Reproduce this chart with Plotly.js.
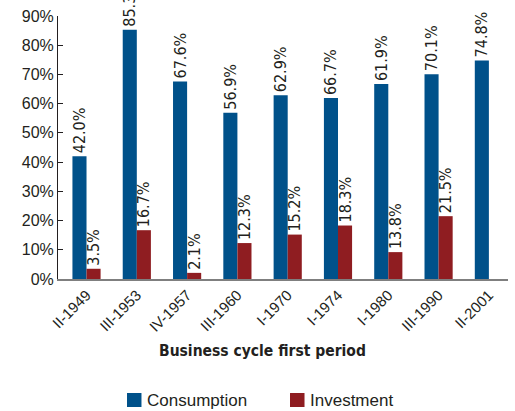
<!DOCTYPE html>
<html>
<head>
<meta charset="utf-8">
<script src="https://cdn.plot.ly/plotly-3.0.1.min.js"></script>
<style>html,body{margin:0;padding:0;background:#fff;}#chart{width:515px;height:411px;}</style>
</head>
<body>
<div id="chart"></div>
<script>
const categories = ["II-1949","III-1953","IV-1957","III-1960","I-1970","I-1974","I-1980","III-1990","II-2001"];
// bar heights as drawn in the picture
const consumption = [42.0, 85.3, 67.6, 56.9, 62.9, 61.9, 66.7, 70.1, 74.8];
const investment  = [3.5, 16.7, 2.1, 12.3, 15.2, 18.3, 9.2, 21.5, null];
// labels as printed in the picture
const consumptionLabels = ["42.0%","85.3","67.6%","56.9%","62.9%","66.7%","61.9%","70.1%","74.8%"];
const investmentLabels  = ["3.5%","16.7%","2.1%","12.3%","15.2%","18.3%","13.8%","21.5%",""];
const seriesNames = ["Consumption", "Investment"];
const seriesColors = ["#00518a", "#8f1d21"];
const yTickVals = [0,10,20,30,40,50,60,70,80,90];
const yTickText = ["0%","10%","20%","30%","40%","50%","60%","70%","80%","90%"];

const ink = "#231f20";
const narrow = "'Liberation Sans Narrow', 'Arial Narrow', 'DejaVu Sans Condensed', sans-serif";
const sans = "'Liberation Sans', Arial, sans-serif";

const labelFont = {family: narrow, size: 16, color: ink};

const traces = [
  {type: "bar", name: seriesNames[0], x: categories, y: consumption,
   text: consumptionLabels, textposition: "outside", textangle: -90,
   constraintext: "none", cliponaxis: false, textfont: labelFont,
   marker: {color: seriesColors[0]}, hoverinfo: "skip"},
  {type: "bar", name: seriesNames[1], x: categories, y: investment,
   text: investmentLabels, textposition: "outside", textangle: -90,
   constraintext: "none", cliponaxis: false, textfont: labelFont,
   marker: {color: seriesColors[1]}, hoverinfo: "skip"}
];

// legend drawn in the bottom margin (square + label per series)
const legendX = [0.1533, 0.5156];
const shapes = seriesColors.map((c, i) => ({
  type: "rect", xref: "paper", yref: "paper",
  x0: legendX[i], x1: legendX[i] + 0.0322, y0: -0.4867, y1: -0.4335,
  fillcolor: c, line: {width: 0}
}));
const legendAnn = seriesNames.map((n, i) => ({
  text: n, xref: "paper", yref: "paper",
  x: legendX[i] + 0.0400, y: -0.4601, xanchor: "left", yanchor: "middle",
  showarrow: false, font: {family: sans, size: 17, color: ink}
}));

const layout = {
  width: 515, height: 411,
  margin: {l: 58, r: 7, t: 16, b: 132},
  paper_bgcolor: "#fff", plot_bgcolor: "#fff",
  barmode: "group", bargap: 0.44, bargroupgap: 0,
  showlegend: false,
  font: {family: sans, color: ink},
  xaxis: {
    type: "category", range: [-0.567, 8.38],
    showline: true, linecolor: "#7f7f7f", linewidth: 1.5,
    showgrid: false, zeroline: false, ticks: "",
    tickangle: -45, tickfont: {family: sans, size: 15, color: ink}
  },
  yaxis: {
    range: [0, 90], tickvals: yTickVals, ticktext: yTickText,
    showline: true, linecolor: ink, linewidth: 1,
    ticks: "inside", ticklen: 5, tickcolor: ink,
    showgrid: false, zeroline: false,
    tickfont: {family: sans, size: 16, color: ink}
  },
  shapes: shapes,
  annotations: [{
    text: "<b>Business cycle first period</b>", xref: "paper", yref: "paper",
    x: 0.4544, y: -0.2726, xanchor: "center", yanchor: "middle", showarrow: false,
    font: {family: narrow, size: 15.5, color: ink}
  }].concat(legendAnn)
};

Plotly.newPlot("chart", traces, layout, {displayModeBar: false, staticPlot: true});
</script>
</body>
</html>
